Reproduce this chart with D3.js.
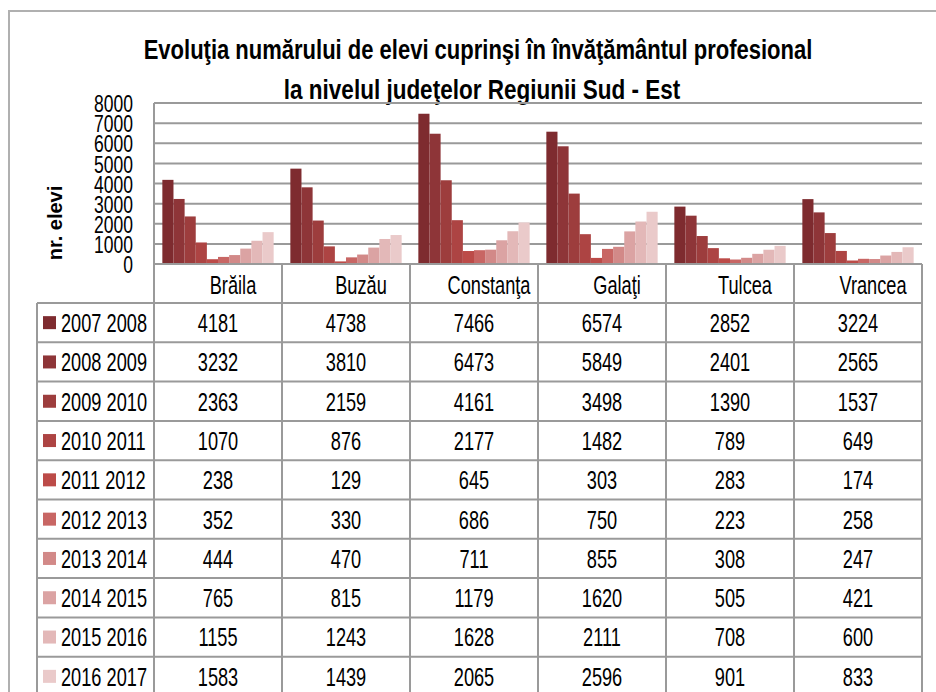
<!DOCTYPE html>
<html>
<head>
<meta charset="utf-8">
<script src="https://cdn.jsdelivr.net/npm/d3@7"></script>
<style>
  html, body { margin: 0; padding: 0; background: #fff; }
  svg { display: block; }
  text { font-family: "Liberation Sans", Arial, sans-serif; fill: #000; }
</style>
</head>
<body>
<svg id="chart" width="936" height="692"></svg>
<script>
const titleLines = ["Evoluţia numărului de elevi cuprinşi în învăţământul profesional", "la nivelul judeţelor Regiunii Sud - Est"];
const yAxisTitle = "nr. elevi";
const categories = ["Brăila", "Buzău", "Constanţa", "Galaţi", "Tulcea", "Vrancea"];
const seriesNames = ["2007 2008", "2008 2009", "2009 2010", "2010 2011", "2011 2012", "2012 2013", "2013 2014", "2014 2015", "2015 2016", "2016 2017"];
const values = [
  [4181, 4738, 7466, 6574, 2852, 3224],
  [3232, 3810, 6473, 5849, 2401, 2565],
  [2363, 2159, 4161, 3498, 1390, 1537],
  [1070, 876, 2177, 1482, 789, 649],
  [238, 129, 645, 303, 283, 174],
  [352, 330, 686, 750, 223, 258],
  [444, 470, 711, 855, 308, 247],
  [765, 815, 1179, 1620, 505, 421],
  [1155, 1243, 1628, 2111, 708, 600],
  [1583, 1439, 2065, 2596, 901, 833]
];
const yTicks = [0, 1000, 2000, 3000, 4000, 5000, 6000, 7000, 8000];
const colors = ["#7e2b2f", "#8e3538", "#9d3d3d", "#ad4443", "#bc4b48", "#c86664", "#d28988", "#dba3a3", "#e3b8b8", "#eacaca"];

const svg = d3.select("#chart");
const L = { plotLeft: 154, plotRight: 922, plotTop: 103, plotBottom: 264, legendLeft: 37, headerBottom: 303, rowH: 39.3 };
const grid = "#9a9a9a";
const SX = 0.70, FS = 26;

function txt(parent, x, y, s, opts = {}) {
  const t = parent.append("text")
    .attr("transform", `translate(${x},${y}) scale(${opts.sx || SX},1)`)
    .attr("font-size", opts.fs || FS)
    .attr("text-anchor", opts.anchor || "start")
    .attr("dy", opts.dy || "0.36em")
    .text(s);
  if (opts.bold) t.attr("font-weight", "bold");
  return t;
}

// outer frame
svg.append("path").attr("d", `M9,692 V11 H936`).attr("fill", "none").attr("stroke", "#b0b0b0").attr("stroke-width", 2);

// title
txt(svg, 478, 49, titleLines[0], { fs: 28, sx: 0.786, anchor: "middle", bold: true, dy: 0 });
txt(svg, 482, 89, titleLines[1], { fs: 28, sx: 0.804, anchor: "middle", bold: true, dy: 0 });

const x0 = d3.scaleBand().domain(categories).range([L.plotLeft, L.plotRight]).paddingInner(0).paddingOuter(0);
const x1 = d3.scaleBand().domain(seriesNames).range([0, x0.bandwidth()]).paddingInner(0).paddingOuter(0.75);
const y = d3.scaleLinear().domain([0, 8000]).range([L.plotBottom, L.plotTop]);

// gridlines
svg.append("g").selectAll("line").data(yTicks.filter(t => t > 0)).join("line")
  .attr("x1", L.plotLeft).attr("x2", L.plotRight)
  .attr("y1", d => y(d)).attr("y2", d => y(d))
  .attr("stroke", grid).attr("stroke-width", 2);

// y axis
const yAxis = d3.axisLeft(y).tickValues(yTicks).tickSize(0).tickPadding(0).tickFormat(d3.format("d"));
const ya = svg.append("g").attr("transform", `translate(133,0)`).call(yAxis);
ya.select(".domain").remove();
ya.selectAll("text").attr("font-size", 24).attr("font-family", null).attr("x", 0).attr("dy", "0.36em")
  .attr("transform", "scale(0.73,1)");

svg.append("text").attr("transform", `translate(62,223) rotate(-90)`)
  .attr("text-anchor", "middle").attr("font-weight", "bold").attr("font-size", 20)
  .text(yAxisTitle);

// bars
const gBars = svg.append("g");
seriesNames.forEach((s, si) => {
  gBars.append("g").selectAll("rect").data(categories.map((c, ci) => ({ c, v: values[si][ci] }))).join("rect")
    .attr("x", d => x0(d.c) + x1(s))
    .attr("width", x1.bandwidth())
    .attr("y", d => y(d.v))
    .attr("height", d => y(0) - y(d.v))
    .attr("fill", colors[si]);
});

// plot left line
svg.append("line").attr("x1", L.plotLeft).attr("x2", L.plotLeft).attr("y1", L.plotTop).attr("y2", L.plotBottom).attr("stroke", grid).attr("stroke-width", 2);

// data table
const tableBottom = L.headerBottom + seriesNames.length * L.rowH;
const tg = svg.append("g");
tg.append("line").attr("x1", L.plotLeft).attr("x2", L.plotRight).attr("y1", L.plotBottom).attr("y2", L.plotBottom).attr("stroke", grid).attr("stroke-width", 2);
d3.range(seriesNames.length + 1).forEach(i => {
  const yy = L.headerBottom + i * L.rowH;
  tg.append("line").attr("x1", L.legendLeft).attr("x2", L.plotRight).attr("y1", yy).attr("y2", yy).attr("stroke", grid).attr("stroke-width", 2);
});
categories.forEach(c => {
  tg.append("line").attr("x1", x0(c)).attr("x2", x0(c)).attr("y1", L.plotBottom).attr("y2", tableBottom).attr("stroke", grid).attr("stroke-width", 2);
});
tg.append("line").attr("x1", L.plotRight).attr("x2", L.plotRight).attr("y1", L.plotBottom).attr("y2", tableBottom).attr("stroke", grid).attr("stroke-width", 2);
tg.append("line").attr("x1", L.legendLeft).attr("x2", L.legendLeft).attr("y1", L.headerBottom).attr("y2", tableBottom).attr("stroke", grid).attr("stroke-width", 2);

// header labels
categories.forEach(c => {
  txt(tg, x0(c) + x0.bandwidth() / 2 + 15, (L.plotBottom + L.headerBottom) / 2 + 1, c, { anchor: "middle" });
});

// rows
seriesNames.forEach((s, si) => {
  const cy = L.headerBottom + (si + 0.5) * L.rowH;
  tg.append("rect").attr("x", 43).attr("y", cy - 6.5).attr("width", 13).attr("height", 13).attr("fill", colors[si]);
  txt(tg, 61, cy, s);
  categories.forEach((c, ci) => {
    txt(tg, x0(c) + x0.bandwidth() / 2, cy, values[si][ci], { anchor: "middle" });
  });
});
</script>
</body>
</html>
